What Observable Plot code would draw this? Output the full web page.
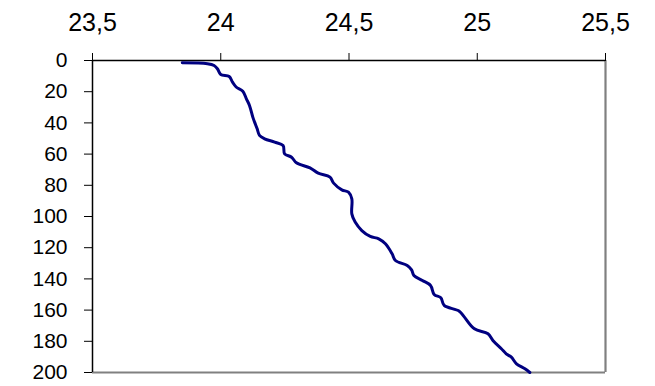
<!DOCTYPE html>
<html>
<head>
<meta charset="utf-8">
<script src="https://cdn.jsdelivr.net/npm/d3@7"></script>
<script src="https://cdn.jsdelivr.net/npm/@observablehq/plot@0.6"></script>
<style>
  html, body { margin: 0; padding: 0; background: #fff; }
  #chart svg { display: block; font-family: "Liberation Sans", Arial, sans-serif; }
</style>
</head>
<body>
<div id="chart"></div>
<script>
const depth = [1.5, 2.1, 3.2, 5.3, 9, 10.3, 13.9, 17, 19.7, 24.6, 28.8, 36.3, 39.5, 43.8, 48, 50.2, 52.3, 54.5, 59.8, 62, 65.6, 68.8, 72.2, 74.8, 78.6, 82.9, 84.4, 88.7, 98.3, 103.6, 109, 112.8, 114.3, 117.5, 123.9, 128.2, 131.4, 134.2, 137.8, 141, 144.2, 150, 152.1, 157, 160.7, 164.5, 172, 175.2, 179.5, 184.8, 188, 190.2, 194.4, 197.6, 200];
const temperature = [23.85, 23.948, 23.974, 23.987, 24.0, 24.033, 24.046, 24.06, 24.086, 24.1, 24.112, 24.125, 24.132, 24.142, 24.151, 24.171, 24.21, 24.243, 24.249, 24.276, 24.295, 24.348, 24.38, 24.426, 24.44, 24.472, 24.498, 24.511, 24.511, 24.524, 24.55, 24.583, 24.616, 24.642, 24.668, 24.681, 24.727, 24.744, 24.753, 24.786, 24.818, 24.832, 24.858, 24.871, 24.93, 24.95, 24.989, 25.042, 25.061, 25.094, 25.113, 25.133, 25.153, 25.186, 25.205];
const xTicks = [23.5, 24, 24.5, 25, 25.5];
const yTicks = [0, 20, 40, 60, 80, 100, 120, 140, 160, 180, 200];

const rows = depth.map((d, i) => ({depth: d, temp: temperature[i]}));
const fmt = d => String(d).replace(".", ",");

const chart = Plot.plot({
  width: 655,
  height: 386,
  marginLeft: 92,
  marginRight: 50,
  marginTop: 60,
  marginBottom: 14,
  style: {fontSize: "21px", fontFamily: "'Liberation Sans', Arial, sans-serif", color: "#000", background: "#fff"},
  x: {domain: [23.5, 25.5]},
  y: {domain: [0, 200], reverse: true},
  marks: [
    Plot.ruleX([25.5], {stroke: "#808080", strokeWidth: 2.2}),
    Plot.ruleY([200], {stroke: "#808080", strokeWidth: 2.2}),
    Plot.ruleX([23.5], {stroke: "#000", strokeWidth: 1.5}),
    Plot.ruleY([0], {stroke: "#000", strokeWidth: 1.5}),
    Plot.axisX({anchor: "top", ticks: xTicks, tickFormat: fmt, tickSize: 8, tickPadding: 22, label: null, stroke: "#000", strokeWidth: 1, fontSize: 25}),
    Plot.axisY({anchor: "left", ticks: yTicks, tickFormat: fmt, tickSize: 8, tickPadding: 17, label: null, stroke: "#000", strokeWidth: 1, fontSize: 21}),
    Plot.line(rows, {x: "temp", y: "depth", stroke: "#000080", strokeWidth: 3, curve: "catmull-rom"})
  ]
});
document.getElementById("chart").appendChild(chart);
</script>
</body>
</html>
